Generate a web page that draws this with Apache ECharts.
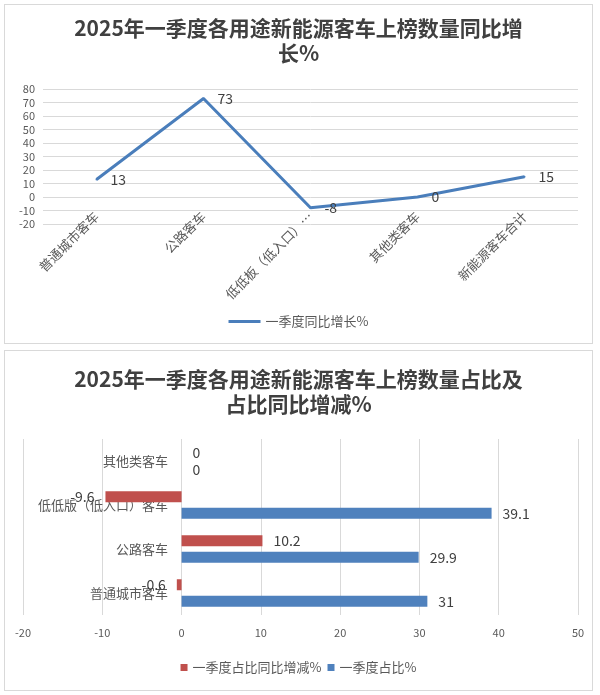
<!DOCTYPE html>
<html><head><meta charset="utf-8">
<script src="https://cdn.jsdelivr.net/npm/echarts@6/dist/echarts.min.js"></script>
<style>
html,body{margin:0;padding:0;background:#fff;}
.panel{position:absolute;left:4px;width:587px;border:1px solid #d9d9d9;background:#fff;}
#p1{top:4px;height:338px;}
#p2{top:350px;height:339px;}
.chart{width:100%;height:100%;}
</style></head><body>
<div class="panel" id="p1"><div class="chart" id="c1"></div></div>
<div class="panel" id="p2"><div class="chart" id="c2"></div></div>
<script>
// ---- data ----
const lineTitle = '2025年一季度各用途新能源客车上榜数量同比增\n长%';
const lineSeriesName = '一季度同比增长%';
const lineCategories = ['普通城市客车', '公路客车', '低低板（低入口）客车', '其他类客车', '新能源客车合计'];
const lineValues = [13, 73, -8, 0, 15];
const lineYMin = -20, lineYMax = 80, lineYInterval = 10;

const barTitle = '2025年一季度各用途新能源客车上榜数量占比及\n占比同比增减%';
const barCategories = ['普通城市客车', '公路客车', '低低版（低入口）客车', '其他类客车'];
const changeName = '一季度占比同比增减%';
const changeValues = [-0.6, 10.2, -9.6, 0];
const shareName = '一季度占比%';
const shareValues = [31, 29.9, 39.1, 0];
const barXMin = -20, barXMax = 50, barXInterval = 10;

const FONT = '"Noto Sans CJK SC", "Noto Sans", sans-serif';

// ---- chart 1 ----
const c1 = echarts.init(document.getElementById('c1'), null, {renderer: 'canvas'});
c1.setOption({
  animation: false,
  textStyle: {fontFamily: FONT},
  title: {
    text: lineTitle, left: 'center', top: 6,
    textStyle: {fontSize: 21, fontWeight: 'bold', color: '#404040', lineHeight: 25, fontFamily: FONT}
  },
  legend: {
    data: [{name: lineSeriesName, icon: 'rect'}],
    top: 305, left: 'center', itemWidth: 32, itemHeight: 3,
    textStyle: {fontSize: 13, color: '#595959', fontFamily: FONT}
  },
  grid: {left: 38, right: 14, top: 84, height: 135, containLabel: false, outerBoundsMode: 'none'},
  xAxis: {
    type: 'category', data: lineCategories, boundaryGap: true,
    axisLine: {show: false, onZero: false}, axisTick: {show: false},
    axisLabel: {
      interval: 0, rotate: 45, margin: -10, fontSize: 13, color: '#595959', fontFamily: FONT,
      formatter: function (n) { return n.length > 9 ? n.slice(0, 8) + '…' : n; }
    },
    splitLine: {show: false}
  },
  yAxis: {
    type: 'value', min: lineYMin, max: lineYMax, interval: lineYInterval,
    axisLine: {show: false}, axisTick: {show: false},
    axisLabel: {fontSize: 11, color: '#595959', margin: 8, fontFamily: FONT},
    splitLine: {lineStyle: {color: '#d9d9d9', width: 1}}
  },
  series: [{
    name: lineSeriesName, type: 'line', data: lineValues,
    symbol: 'circle', symbolSize: 2, showSymbol: true,
    itemStyle: {color: '#4A7EBB'},
    lineStyle: {color: '#4A7EBB', width: 3},
    label: {show: true, position: 'right', distance: 13, fontSize: 14, color: '#404040', fontFamily: FONT}
  }]
});

// ---- chart 2 ----
const c2 = echarts.init(document.getElementById('c2'), null, {renderer: 'canvas'});
function withSide(arr) {
  return arr.map(function (v) { return {value: v, label: {position: v < 0 ? 'left' : 'right'}}; });
}
c2.setOption({
  animation: false,
  textStyle: {fontFamily: FONT},
  title: {
    text: barTitle, left: 'center', top: 11,
    textStyle: {fontSize: 21, fontWeight: 'bold', color: '#404040', lineHeight: 25, fontFamily: FONT}
  },
  legend: {
    data: [{name: changeName, icon: 'rect'}, {name: shareName, icon: 'rect'}],
    top: 305, left: 'center', itemWidth: 7, itemHeight: 7, itemGap: 6,
    textStyle: {fontSize: 13, color: '#595959', fontFamily: FONT}
  },
  grid: {left: 18, right: 14, top: 88, height: 176, containLabel: false, outerBoundsMode: 'none'},
  xAxis: {
    type: 'value', min: barXMin, max: barXMax, interval: barXInterval,
    axisLine: {show: false}, axisTick: {show: false},
    axisLabel: {fontSize: 11, color: '#595959', margin: 12, fontFamily: FONT},
    splitLine: {lineStyle: {color: '#d9d9d9', width: 1}}
  },
  yAxis: {
    type: 'category', data: barCategories,
    offset: -157,
    axisLine: {show: false, onZero: false},
    axisTick: {show: false},
    axisLabel: {fontSize: 13, color: '#595959', margin: 12, fontFamily: FONT},
    splitLine: {show: false}
  },
  series: [{
    name: changeName, type: 'bar', data: withSide(changeValues),
    barWidth: 11, barGap: '50%',
    itemStyle: {color: '#C0504D'},
    label: {show: true, distance: 11, fontSize: 14, color: '#404040', fontFamily: FONT}
  }, {
    name: shareName, type: 'bar', data: withSide(shareValues),
    barWidth: 11, barGap: '50%',
    itemStyle: {color: '#4F81BD'},
    label: {show: true, distance: 11, fontSize: 14, color: '#404040', fontFamily: FONT}
  }]
});
</script>
</body></html>
